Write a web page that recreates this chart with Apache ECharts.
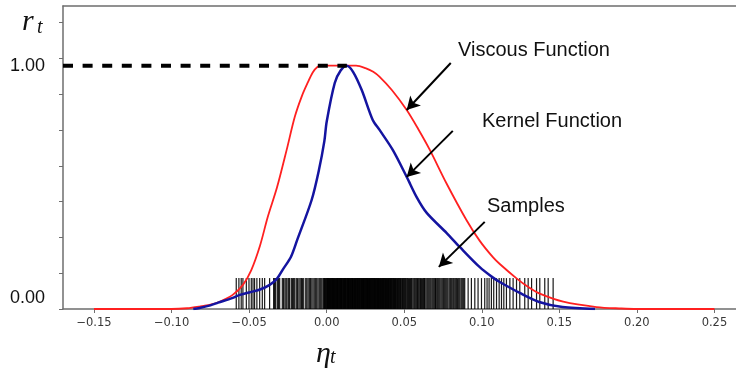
<!DOCTYPE html>
<html><head><meta charset="utf-8">
<script src="https://cdn.jsdelivr.net/npm/echarts@6/dist/echarts.min.js"></script>
<style>html,body{margin:0;padding:0;background:#fff}#c{width:736px;height:370px}</style>
</head><body><div id="c"></div>
<script>
// Viscous function (red)
const viscousCurve = [[-0.15,0],[-0.1,0],[-0.09,0.003],[-0.082,0.01],[-0.075,0.018],[-0.069,0.03],[-0.0606,0.058],[-0.054,0.099],[-0.0486,0.16],[-0.043,0.26],[-0.038,0.378],[-0.032,0.5],[-0.0258,0.654],[-0.0206,0.789],[-0.016,0.875],[-0.0123,0.929],[-0.009,0.972],[-0.006,0.995],[-0.003,1.0],[0.019,1.0],[0.025,0.99],[0.03,0.975],[0.034,0.955],[0.042,0.9],[0.0516,0.818],[0.059,0.74],[0.0665,0.654],[0.0772,0.517],[0.0901,0.366],[0.0987,0.28],[0.1073,0.212],[0.1116,0.185],[0.1224,0.126],[0.13,0.09],[0.137,0.064],[0.1525,0.03],[0.174,0.008],[0.19,0.002],[0.2,0],[0.25,0]];
// Kernel function (blue)
const kernelCurve = [[-0.086,0],[-0.082,0.004],[-0.075,0.015],[-0.07,0.026],[-0.061,0.045],[-0.056,0.058],[-0.05,0.068],[-0.043,0.08],[-0.037,0.098],[-0.032,0.125],[-0.028,0.165],[-0.023,0.215],[-0.019,0.284],[-0.0097,0.448],[-0.005,0.571],[-0.0015,0.69],[0.0,0.77],[0.0052,0.929],[0.009,0.98],[0.0129,1.0],[0.017,0.975],[0.0226,0.9],[0.0297,0.777],[0.0342,0.735],[0.0426,0.654],[0.0516,0.543],[0.058,0.46],[0.0645,0.395],[0.0774,0.312],[0.0858,0.255],[0.0987,0.172],[0.107,0.13],[0.1116,0.111],[0.1245,0.066],[0.137,0.029],[0.152,0.008],[0.173,0]];
// Samples (rug)
const samplesLeft = [-0.0583,-0.0566,-0.0551,-0.054,-0.0518,-0.0501,-0.0486,-0.0475,-0.0465,-0.045,-0.0432,-0.0415,-0.04,-0.0368,-0.0342,-0.0336,-0.0329,-0.0318,-0.031,-0.0303,-0.0286,-0.0278,-0.0269,-0.0262,-0.0256,-0.0247,-0.0239,-0.0228,-0.0221,-0.0213,-0.0206,-0.0196,-0.0188,-0.0179,-0.0171,-0.0163,-0.0156,-0.0148,-0.0135,-0.0128,-0.012,-0.0112,-0.0105,-0.0096,-0.0088,-0.008,-0.0071,-0.0064,-0.0056,-0.0048,-0.0041,-0.0032,-0.0024,-0.0019];
const samplesCore = [-0.0015,-0.0012,-0.0008,-0.0004,0.0,0.0003,0.0006,0.0009,0.0011,0.0015,0.0018,0.0021,0.0024,0.0027,0.003,0.0033,0.0036,0.0039,0.0041,0.0044,0.0047,0.005,0.0053,0.0057,0.006,0.0063,0.0066,0.0069,0.0071,0.0075,0.0078,0.0081,0.0084,0.0087,0.009,0.0093,0.0095,0.0098,0.0101,0.0105,0.0108,0.0111,0.0114,0.0117,0.0119,0.0122,0.0125,0.0129,0.0132,0.0135,0.0138,0.0141,0.0143,0.0146,0.0149,0.0153,0.0156,0.0159,0.0162,0.0165,0.0167,0.017,0.0173,0.0177,0.018,0.0183,0.0186,0.0189,0.0191,0.0195,0.0198,0.0201,0.0204,0.0207,0.021,0.0213,0.0215,0.0219,0.0222,0.0225,0.0228,0.0231,0.0234,0.0237,0.0239,0.0243,0.0246,0.0249,0.0252,0.0255,0.0258,0.0261,0.0263,0.0267,0.027,0.0273,0.0276,0.0279,0.0282,0.0285,0.0288,0.0291,0.0294,0.0297,0.03,0.0303,0.0306,0.0309,0.0312,0.0315,0.0318,0.0322,0.0325,0.0328,0.0331,0.0334,0.0337,0.034,0.0344,0.0347,0.035,0.0353,0.0357,0.036,0.0363,0.0366,0.0369,0.0372,0.0376,0.0379,0.0382,0.0386,0.0389,0.0392,0.0396,0.0399,0.0402,0.0406,0.0409,0.0412,0.0416,0.0419,0.0423,0.0427,0.043,0.0434,0.0437,0.0441,0.0444,0.0448,0.0452,0.0456,0.046,0.0464,0.0468,0.0472,0.0476,0.048,0.0485,0.0489,0.0494,0.0498,0.0503,0.0507,0.0512,0.0517,0.0522];
const samplesRight = [0.0528,0.0534,0.054,0.0546,0.0551,0.0558,0.0565,0.0571,0.0577,0.0582,0.0586,0.0593,0.06,0.0605,0.0611,0.0618,0.0625,0.063,0.0634,0.0641,0.0648,0.0654,0.066,0.0666,0.0672,0.0679,0.0685,0.0691,0.0697,0.0702,0.0706,0.0713,0.0719,0.0725,0.0731,0.0738,0.0745,0.0752,0.0758,0.0764,0.077,0.0776,0.0782,0.079,0.0797,0.0803,0.0809,0.0816,0.0822,0.0829,0.0836,0.0843,0.0851,0.0858,0.0866,0.0872,0.0878,0.0884,
0.089,0.0912,0.0933,0.0955,0.0976,0.0998,0.1019,0.1034,0.1047,0.1062,0.1077,0.1095,0.1112,0.1127,0.1142,0.1159,0.1181,0.1202,0.1224,0.1245,0.1277,0.1299,0.1321,0.1353,0.1374,0.1406,0.1428,0.146];
const samples = samplesLeft.concat(samplesCore, samplesRight);
const rugHeight = 0.127;
const peakLine = [[-0.17,1],[0.013,1]];
const xTicks = [-0.15,-0.10,-0.05,0.00,0.05,0.10,0.15,0.20,0.25];
const yTicks = [0,0.1471,0.2943,0.4414,0.5886,0.7357,0.8829,1.03,1.1772];
const yLabels = [0,1];
const annotations = [
  {text:'Viscous Function', from:[0.080,1.011], to:[0.0516,0.818]},
  {text:'Kernel Function', from:[0.0813,0.732], to:[0.0516,0.543]},
  {text:'Samples', from:[0.1019,0.358], to:[0.0723,0.173]}
];

const chart = echarts.init(document.getElementById('c'), null, {renderer:'canvas'});
const axisColor = '#6e6e6e';
const xMin = -0.17, xMax = 0.2639;
chart.setOption({
  animation:false,
  backgroundColor:'#fff',
  grid:{left:63,right:0,top:6,bottom:61,show:false},
  xAxis:[{type:'value',min:xMin,max:xMax,
    axisLine:{show:true,onZero:false,lineStyle:{color:axisColor,width:1.5}},
    axisTick:{show:true,customValues:xTicks,length:4,lineStyle:{color:axisColor,width:1}},
    axisLabel:{customValues:xTicks,margin:8,fontFamily:'DejaVu Sans',fontSize:11.5,color:'#383838',
      formatter:v=>(v<0?'\u2212':'')+Math.abs(v).toFixed(2)},
    splitLine:{show:false}},
   {type:'value',position:'top',min:xMin,max:xMax,
    axisLine:{show:true,onZero:false,lineStyle:{color:axisColor,width:1.5}},
    axisTick:{show:false},axisLabel:{show:false},splitLine:{show:false}}],
  yAxis:{type:'value',min:0,max:1.2454,
    axisLine:{show:true,onZero:false,lineStyle:{color:axisColor,width:1.5}},
    axisTick:{show:true,customValues:yTicks,length:4,lineStyle:{color:axisColor,width:1}},
    axisLabel:{customValues:yLabels,margin:18,
      formatter:v=>(v<0.5?'{lo|':'{hi|')+v.toFixed(2)+'}',
      rich:{lo:{fontFamily:'Liberation Sans',fontSize:18,color:'#111',padding:[0,0,22,0]},
            hi:{fontFamily:'Liberation Sans',fontSize:18,color:'#111'}}},
    splitLine:{show:false}},
  series:[
    {type:'custom',name:'Samples',data:samples.map(v=>[v,0]),encode:{x:0,y:1},z:1,
      renderItem:(params,api)=>{const v=api.value(0);const p0=api.coord([v,0]);const p1=api.coord([v,rugHeight]);
        return {type:'line',shape:{x1:p0[0],y1:p0[1],x2:p1[0],y2:p1[1]},style:{stroke:'rgba(0,0,0,0.9)',lineWidth:1.2}};}},
    {type:'line',name:'Viscous Function',data:viscousCurve,symbol:'none',smooth:0.3,z:3,
      lineStyle:{color:'#ff2020',width:1.8}},
    {type:'line',name:'Kernel Function',data:kernelCurve,symbol:'none',smooth:0.3,z:4,
      lineStyle:{color:'#1414a0',width:2.5}},
    {type:'line',name:'peak',data:peakLine,symbol:'none',z:5,
      lineStyle:{color:'#000',width:4,type:[10,9.6],cap:'butt'}},
    {type:'line',name:'arrows',data:[],z:6,
      markLine:{silent:true,symbol:['none','arrow'],symbolSize:[11,13],animation:false,
        lineStyle:{color:'#000',width:2,type:'solid'},label:{show:false},
        data:annotations.map(a=>[{coord:a.from},{coord:a.to}])}}
  ],
  graphic:[
    {type:'text',x:458,y:50,style:{text:annotations[0].text,font:'20px "Liberation Sans"',fill:'#111',verticalAlign:'middle'}},
    {type:'text',x:482,y:121,style:{text:annotations[1].text,font:'20px "Liberation Sans"',fill:'#111',verticalAlign:'middle'}},
    {type:'text',x:487,y:206,style:{text:annotations[2].text,font:'20px "Liberation Sans"',fill:'#111',verticalAlign:'middle'}},
    {type:'text',x:22,y:22,style:{text:'r',font:'italic 30px "Liberation Serif"',fill:'#111',verticalAlign:'middle'}},
    {type:'text',x:37,y:28,style:{text:'t',font:'italic 20px "Liberation Serif"',fill:'#111',verticalAlign:'middle'}},
    {type:'text',x:316,y:354,style:{text:'\u03b7',font:'italic 30px "Liberation Serif"',fill:'#111',verticalAlign:'middle'}},
    {type:'text',x:330,y:358,style:{text:'t',font:'italic 20px "Liberation Serif"',fill:'#111',verticalAlign:'middle'}}
  ]
});
</script></body></html>
